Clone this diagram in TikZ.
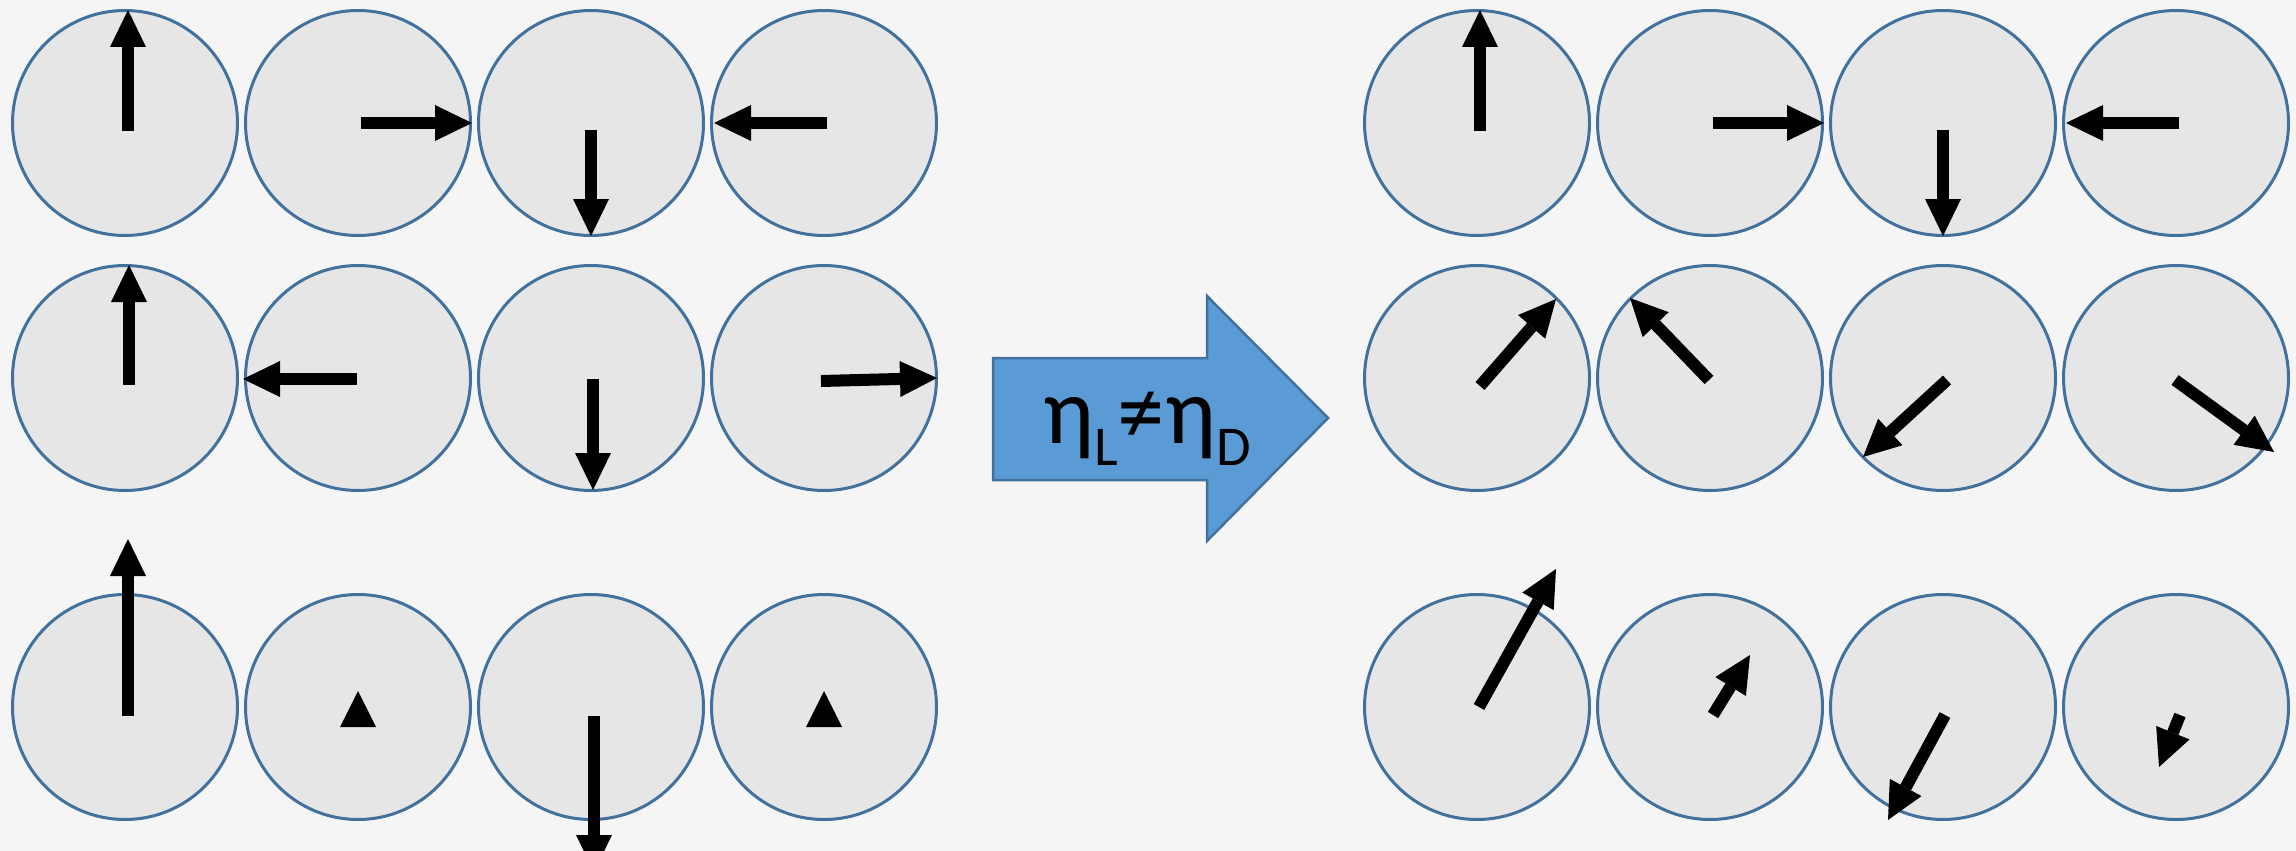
\documentclass[tikz,border=0pt]{standalone}
\usepackage{fontspec}
\setsansfont{Carlito}
\usepackage{tikz}
\usetikzlibrary{arrows.meta}
\definecolor{bgpage}{HTML}{F5F5F5}
\definecolor{disk}{HTML}{E6E6E6}
\definecolor{rim}{HTML}{41719C}
\definecolor{cblue}{HTML}{5B9BD5}
\newcommand\lowidx[1]{\raisebox{-6.5pt}{\fontsize{16}{18}\selectfont #1}}
\tikzset{
  every picture/.style={font=\sffamily},
  mol/.style={circle,draw=rim,fill=disk,line width=0.3mm,minimum size=22.5mm,inner sep=0pt},
  spin/.style={-{Triangle[width=3.6mm,length=3.7mm,line width=0pt]},line width=1.2mm,draw=black},
  tip/.style={fill=black},
  bigarr/.style={draw=rim,fill=cblue,line width=0.25mm,line join=miter},
  lab/.style={font=\sffamily\fontsize{27}{31}\selectfont,text=black,inner sep=0pt},
}

\begin{document}
\begin{tikzpicture}[x=0.1mm,y=-0.1mm]
  \fill[bgpage] (0,0) rectangle (2296,851);
  \useasboundingbox (0,0) rectangle (2296,851);
  \clip (0,0) rectangle (2296,851);
  % before: left panel
  \node[mol] (lt1) at (125,123) {};
  \node[mol] (lt2) at (358,123) {};
  \node[mol] (lt3) at (591,123) {};
  \node[mol] (lt4) at (824,123) {};
  \node[mol] (lm1) at (125,378) {};
  \node[mol] (lm2) at (358,378) {};
  \node[mol] (lm3) at (591,378) {};
  \node[mol] (lm4) at (824,378) {};
  \node[mol] (lb1) at (125,707) {};
  \node[mol] (lb2) at (358,707) {};
  \node[mol] (lb3) at (591,707) {};
  \node[mol] (lb4) at (824,707) {};
  \draw[spin] ([shift={(3,8)}]lt1.center) -- ++(0,-121);
  \draw[spin] ([shift={(3,0)}]lt2.center) -- ++(111,0);
  \draw[spin] ([shift={(0,7)}]lt3.center) -- ++(0,106);
  \draw[spin] ([shift={(3,0)}]lt4.center) -- ++(-113,0);
  \draw[spin] ([shift={(4,7)}]lm1.center) -- ++(0,-120);
  \draw[spin] ([shift={(-1,1)}]lm2.center) -- ++(-114,0);
  \draw[spin] ([shift={(2,1)}]lm3.center) -- ++(0,111);
  \draw[spin] ([shift={(-3,3)}]lm4.center) -- ++(116,-3);
  \draw[spin] ([shift={(3,9)}]lb1.center) -- ++(0,-177);
  \fill[tip] ([shift={(-18,20)}]lb2.center) -- ++(36,0) -- ++(-18,-36) -- cycle;
  \draw[spin] ([shift={(3,9)}]lb3.center) -- ++(0,156);
  \fill[tip] ([shift={(-18,20)}]lb4.center) -- ++(36,0) -- ++(-18,-36) -- cycle;
  % the big arrow
  \draw[bigarr] (993,358) -- (1207,358) -- (1207,296) -- (1328,418) -- (1207,541) -- (1207,480) -- (993,480) -- cycle;
  \node[lab,anchor=base] (eta) at (1147,443) {η\lowidx{L}≠η\lowidx{D}};
  % after: right panel
  \node[mol] (rt1) at (1477,123) {};
  \node[mol] (rt2) at (1710,123) {};
  \node[mol] (rt3) at (1943,123) {};
  \node[mol] (rt4) at (2176,123) {};
  \node[mol] (rm1) at (1477,378) {};
  \node[mol] (rm2) at (1710,378) {};
  \node[mol] (rm3) at (1943,378) {};
  \node[mol] (rm4) at (2176,378) {};
  \node[mol] (rb1) at (1477,707) {};
  \node[mol] (rb2) at (1710,707) {};
  \node[mol] (rb3) at (1943,707) {};
  \node[mol] (rb4) at (2176,707) {};
  \draw[spin] ([shift={(3,8)}]rt1.center) -- ++(0,-121);
  \draw[spin] ([shift={(3,0)}]rt2.center) -- ++(111,0);
  \draw[spin] ([shift={(0,7)}]rt3.center) -- ++(0,106);
  \draw[spin] ([shift={(3,0)}]rt4.center) -- ++(-113,0);
  \draw[spin] ([shift={(3,8)}]rm1.center) -- ++(76,-87);
  \draw[spin] ([shift={(-1,2)}]rm2.center) -- ++(-79,-82);
  \draw[spin] ([shift={(4,2)}]rm3.center) -- ++(-84,77);
  \draw[spin] ([shift={(-1,2)}]rm4.center) -- ++(99,72);
  \draw[spin] ([shift={(2,0)}]rb1.center) -- ++(77,-138);
  \draw[spin] ([shift={(3,8)}]rb2.center) -- ++(37,-60);
  \draw[spin] ([shift={(2,8)}]rb3.center) -- ++(-57,105);
  \draw[spin] ([shift={(4,8)}]rb4.center) -- ++(-21,52);
\end{tikzpicture}
\end{document}
